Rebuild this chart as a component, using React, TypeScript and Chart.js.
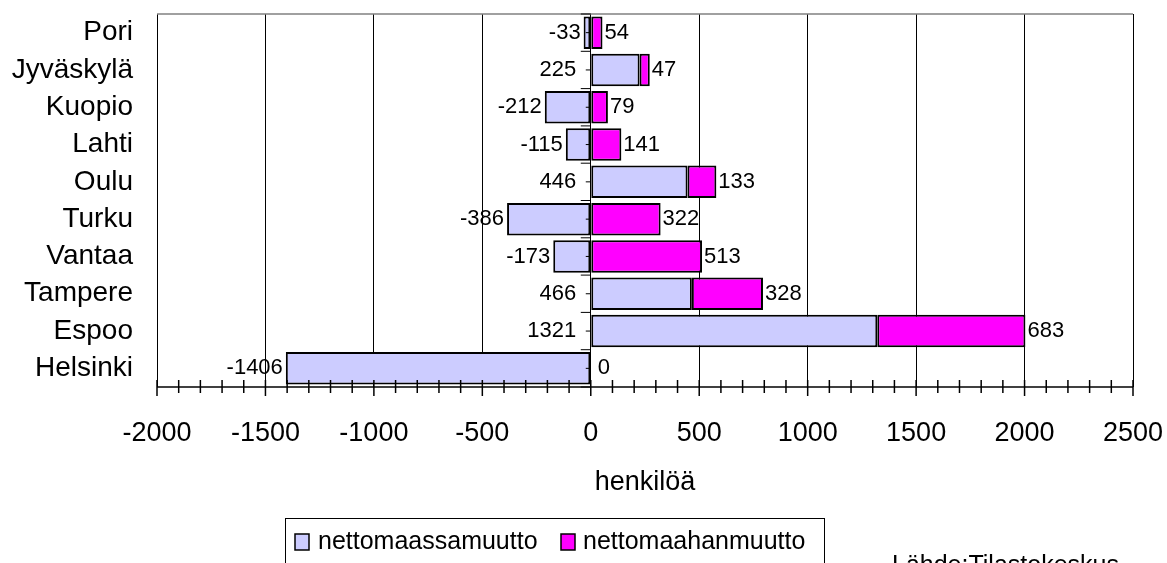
import React, { useEffect, useRef } from "react";
import { Chart, registerables } from "chart.js";

Chart.register(...registerables);

const categories = ["Pori", "Jyväskylä", "Kuopio", "Lahti", "Oulu", "Turku", "Vantaa", "Tampere", "Espoo", "Helsinki"];
const nettomaassamuutto = [-33, 225, -212, -115, 446, -386, -173, 466, 1321, -1406];
const nettomaahanmuutto = [54, 47, 79, 141, 133, 322, 513, 328, 683, 0];
const seriesNames = ["nettomaassamuutto", "nettomaahanmuutto"];
const seriesColors = ["#ccccff", "#ff00ff"];
const xMin = -2000;
const xMax = 2500;
const xMajorStep = 500;
const xMinorStep = 100;
const axisTitle = "henkilöä";
const sourceText = "Lähde:Tilastokeskus";

const FONT = "'Liberation Sans', Arial, sans-serif";

const customPlugin = {
  id: "customDecor",
  afterDatasetsDraw(chart: any) {
    const { ctx, chartArea } = chart;
    const xs = chart.scales.x;
    const ys = chart.scales.y;
    ctx.save();
    // top border of plot area
    ctx.strokeStyle = "#808080";
    ctx.lineWidth = 1.5;
    ctx.beginPath();
    ctx.moveTo(chartArea.left, chartArea.top);
    ctx.lineTo(chartArea.right, chartArea.top);
    ctx.stroke();

    // x axis line and ticks
    ctx.strokeStyle = "#000";
    ctx.lineWidth = 1.5;
    ctx.beginPath();
    ctx.moveTo(chartArea.left, chartArea.bottom);
    ctx.lineTo(chartArea.right, chartArea.bottom);
    ctx.stroke();
    for (let v = xMin; v <= xMax; v += xMinorStep) {
      const px = xs.getPixelForValue(v);
      const major = v % xMajorStep === 0;
      ctx.beginPath();
      ctx.moveTo(px, chartArea.bottom - 7);
      ctx.lineTo(px, chartArea.bottom + (major ? 9 : 6));
      ctx.stroke();
    }

    // category axis at 0
    const x0 = xs.getPixelForValue(0);
    ctx.lineWidth = 1;
    for (let i = 0; i <= categories.length; i++) {
      const py = ys.getPixelForValue(i - 0.5);
      ctx.beginPath();
      ctx.moveTo(x0 - 10, py);
      ctx.lineTo(x0, py);
      ctx.stroke();
    }
    for (let i = 0; i < categories.length; i++) {
      const py = ys.getPixelForValue(i);
      ctx.beginPath();
      ctx.moveTo(x0 - 5, py);
      ctx.lineTo(x0, py);
      ctx.stroke();
    }

    // data labels
    ctx.fillStyle = "#000";
    ctx.font = `22px ${FONT}`;
    ctx.textBaseline = "middle";
    const m0 = chart.getDatasetMeta(0);
    m0.data.forEach((bar: any, i: number) => {
      const v = nettomaassamuutto[i];
      ctx.textAlign = "right";
      const left = Math.min(bar.x, bar.base);
      const tx = v < 0 ? left - 3 : left - 15;
      ctx.fillText(String(v), tx, bar.y);
    });
    const m1 = chart.getDatasetMeta(1);
    m1.data.forEach((bar: any, i: number) => {
      const v = nettomaahanmuutto[i];
      ctx.textAlign = "left";
      const tx = v === 0 ? xs.getPixelForValue(0) + 7 : Math.max(bar.x, bar.base) + 2;
      ctx.fillText(String(v), tx, bar.y);
    });
    ctx.restore();
  },
  afterDraw(chart: any) {
    const { ctx, chartArea } = chart;
    ctx.save();
    ctx.fillStyle = "#000";
    // axis title
    ctx.font = `27px ${FONT}`;
    ctx.textAlign = "center";
    ctx.textBaseline = "alphabetic";
    ctx.fillText(axisTitle, (chartArea.left + chartArea.right) / 2, 490);

    // legend
    ctx.strokeStyle = "#000";
    ctx.lineWidth = 1;
    ctx.strokeRect(285.5, 518.5, 539, 60);
    const sw = [295, 561];
    const tx = [318, 583];
    ctx.font = `25px ${FONT}`;
    ctx.textAlign = "left";
    ctx.textBaseline = "middle";
    for (let i = 0; i < 2; i++) {
      ctx.fillStyle = seriesColors[i];
      ctx.fillRect(sw[i], 534, 14, 16);
      ctx.lineWidth = 1.5;
      ctx.strokeRect(sw[i], 534, 14, 16);
      ctx.fillStyle = "#000";
      ctx.fillText(seriesNames[i], tx[i], 542);
    }

    // source
    ctx.textBaseline = "alphabetic";
    ctx.font = `25px ${FONT}`;
    ctx.fillText(sourceText, 892, 573);
    ctx.restore();
  },
};

const zeroPad = (scale: any) => {
  scale.paddingTop = 0;
  scale.paddingBottom = 0;
  scale.paddingLeft = 0;
  scale.paddingRight = 0;
};

export default function App() {
  const canvasRef = useRef<HTMLCanvasElement | null>(null);

  useEffect(() => {
    if (!canvasRef.current) return;
    const chart = new Chart(canvasRef.current, {
      type: "bar",
      data: {
        labels: categories,
        datasets: [
          {
            label: seriesNames[0],
            data: nettomaassamuutto,
            backgroundColor: seriesColors[0],
            borderColor: "#000",
            borderWidth: 2,
            borderSkipped: false,
            barPercentage: 0.87,
            categoryPercentage: 1,
          },
          {
            label: seriesNames[1],
            data: nettomaahanmuutto,
            backgroundColor: seriesColors[1],
            borderColor: "#000",
            borderWidth: 2,
            borderSkipped: false,
            barPercentage: 0.87,
            categoryPercentage: 1,
          },
        ],
      },
      options: {
        indexAxis: "y",
        animation: false,
        responsive: true,
        maintainAspectRatio: false,
        layout: { padding: { left: 0, right: 34, top: 14, bottom: 0 } },
        plugins: {
          legend: { display: false },
          tooltip: { enabled: false },
          title: { display: false },
        },
        scales: {
          x: {
            type: "linear",
            stacked: true,
            min: xMin,
            max: xMax,
            ticks: {
              stepSize: xMajorStep,
              color: "#000",
              font: { family: FONT, size: 27 },
              padding: 30,
              maxRotation: 0,
              autoSkip: false,
              callback: (v: any) => String(v),
            },
            grid: { color: "#000", lineWidth: 1, drawTicks: false, tickLength: 0 },
            border: { display: false },
            afterFit: (scale: any) => {
              scale.height = 176;
              zeroPad(scale);
            },
          },
          y: {
            type: "category",
            stacked: true,
            ticks: {
              color: "#000",
              font: { family: FONT, size: 28 },
              padding: 24,
              autoSkip: false,
            },
            grid: { display: false, drawTicks: false, tickLength: 0 },
            border: { display: false },
            afterFit: (scale: any) => {
              scale.width = 157;
              zeroPad(scale);
            },
          },
        },
      },
      plugins: [customPlugin],
    });
    return () => chart.destroy();
  }, []);

  return (
    <div style={{ position: "absolute", left: 0, top: 0, width: 1167, height: 563, background: "#fff" }}>
      <canvas ref={canvasRef} />
    </div>
  );
}
